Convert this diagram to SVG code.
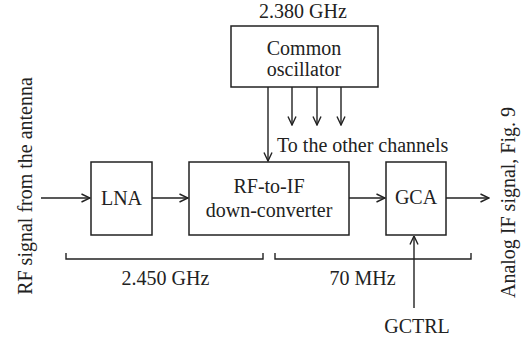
<svg xmlns="http://www.w3.org/2000/svg" width="523" height="341" viewBox="0 0 523 341">
<defs>
  <marker id="arr" viewBox="0 0 10 10" refX="9.5" refY="5" markerWidth="10" markerHeight="10" markerUnits="userSpaceOnUse" orient="auto">
    <path d="M1,1 L9.5,5 L1,9" fill="none" stroke="#222" stroke-width="1.4"/>
  </marker>
</defs>
<text x="303" y="18" font-family="Liberation Serif" font-size="20" text-anchor="middle" fill="#222">2.380 GHz</text>
<g id="osc">
  <rect x="231" y="26" width="147" height="61" fill="#fff" stroke="#222" stroke-width="1.5"/>
  <text x="304" y="55" font-family="Liberation Serif" font-size="20" text-anchor="middle" fill="#222">Common</text>
  <text x="304" y="76" font-family="Liberation Serif" font-size="20" text-anchor="middle" fill="#222">oscillator</text>
</g>
<g id="lna">
  <rect x="91" y="162" width="61" height="73" fill="#fff" stroke="#222" stroke-width="1.5"/>
  <text x="121.5" y="205" font-family="Liberation Serif" font-size="20" text-anchor="middle" fill="#222">LNA</text>
</g>
<g id="mixer">
  <rect x="189" y="162" width="160" height="73" fill="#fff" stroke="#222" stroke-width="1.5"/>
  <text x="269" y="193" font-family="Liberation Serif" font-size="20" text-anchor="middle" fill="#222">RF-to-IF</text>
  <text x="269" y="217" font-family="Liberation Serif" font-size="20" text-anchor="middle" fill="#222">down-converter</text>
</g>
<g id="gca">
  <rect x="386" y="162" width="60" height="73" fill="#fff" stroke="#222" stroke-width="1.5"/>
  <text x="416" y="204" font-family="Liberation Serif" font-size="20" text-anchor="middle" fill="#222">GCA</text>
</g>
<g id="connectors" fill="none" stroke="#222" stroke-width="1.4">
  <line x1="268" y1="87" x2="268" y2="161" marker-end="url(#arr)"/>
  <line x1="292" y1="87" x2="292" y2="125" marker-end="url(#arr)"/>
  <line x1="317" y1="87" x2="317" y2="125" marker-end="url(#arr)"/>
  <line x1="341" y1="87" x2="341" y2="125" marker-end="url(#arr)"/>
  <line x1="41" y1="198" x2="90" y2="198" marker-end="url(#arr)"/>
  <line x1="152" y1="198" x2="188" y2="198" marker-end="url(#arr)"/>
  <line x1="349" y1="198" x2="385" y2="198" marker-end="url(#arr)"/>
  <line x1="446" y1="198" x2="489" y2="198" marker-end="url(#arr)"/>
  <line x1="414" y1="308" x2="414" y2="236" marker-end="url(#arr)"/>
  <path d="M66,253 V259 H263 V253"/>
  <path d="M275,253 V259 H471 V253"/>
</g>
<text x="277" y="152" font-family="Liberation Serif" font-size="20" fill="#222">To the other channels</text>
<text x="165.5" y="285" font-family="Liberation Serif" font-size="20" text-anchor="middle" fill="#222">2.450 GHz</text>
<text x="362.5" y="285" font-family="Liberation Serif" font-size="20" text-anchor="middle" fill="#222">70 MHz</text>
<text x="417" y="333" font-family="Liberation Serif" font-size="20" text-anchor="middle" fill="#222">GCTRL</text>
<text transform="translate(32,186) rotate(-90)" font-family="Liberation Serif" font-size="20" text-anchor="middle" fill="#222">RF signal from the antenna</text>
<text transform="translate(515,202.5) rotate(-90)" font-family="Liberation Serif" font-size="20" text-anchor="middle" fill="#222">Analog IF signal, Fig. 9</text>
</svg>
